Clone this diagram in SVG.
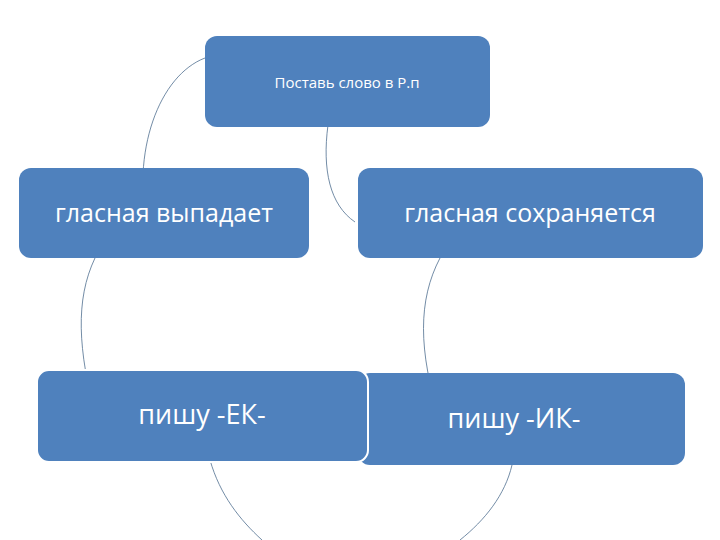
<svg xmlns="http://www.w3.org/2000/svg" width="720" height="540" viewBox="0 0 720 540">
<style>
.b{fill:#4f81bd}
.t{fill:#fff;font-family:"Open Sans","Liberation Sans",sans-serif;text-anchor:middle}
.c{fill:none;stroke:#4f6f8f;stroke-width:0.8}
</style>
<rect width="720" height="540" fill="#fff"/>
<g id="connectors">
<path class="c" d="M205,58 C160,75 130,150 148,235"/>
<path class="c" d="M328,125 C322,170 330,205 355,222"/>
<path class="c" d="M95,258 C75,300 78,350 96,418"/>
<path class="c" d="M440,258 C418,300 418,350 440,420"/>
<path class="c" d="M210,460 C220,495 240,520 262,540"/>
<path class="c" d="M512,465 C505,495 485,520 460,540"/>
</g>
<g id="n1"><rect class="b" x="205" y="36" width="285" height="91" rx="12"/><text class="t" x="347" y="88" font-size="15">Поставь слово в Р.п</text></g>
<g id="n2"><rect class="b" x="19" y="168" width="290" height="90" rx="12"/><text class="t" x="164" y="222" font-size="25">гласная выпадает</text></g>
<g id="n3"><rect class="b" x="358" y="168" width="345" height="90" rx="12"/><text class="t" x="530" y="222" font-size="25">гласная сохраняется</text></g>
<g id="n5"><rect class="b" x="358" y="373" width="327" height="92" rx="12"/><text class="t" x="514" y="428" font-size="27">пишу -ИК-</text></g>
<g id="n4"><rect class="b" x="37" y="370" width="331" height="92" rx="12" stroke="#fff" stroke-width="2"/><text class="t" x="202" y="424" font-size="27">пишу -ЕК-</text></g>
</svg>
